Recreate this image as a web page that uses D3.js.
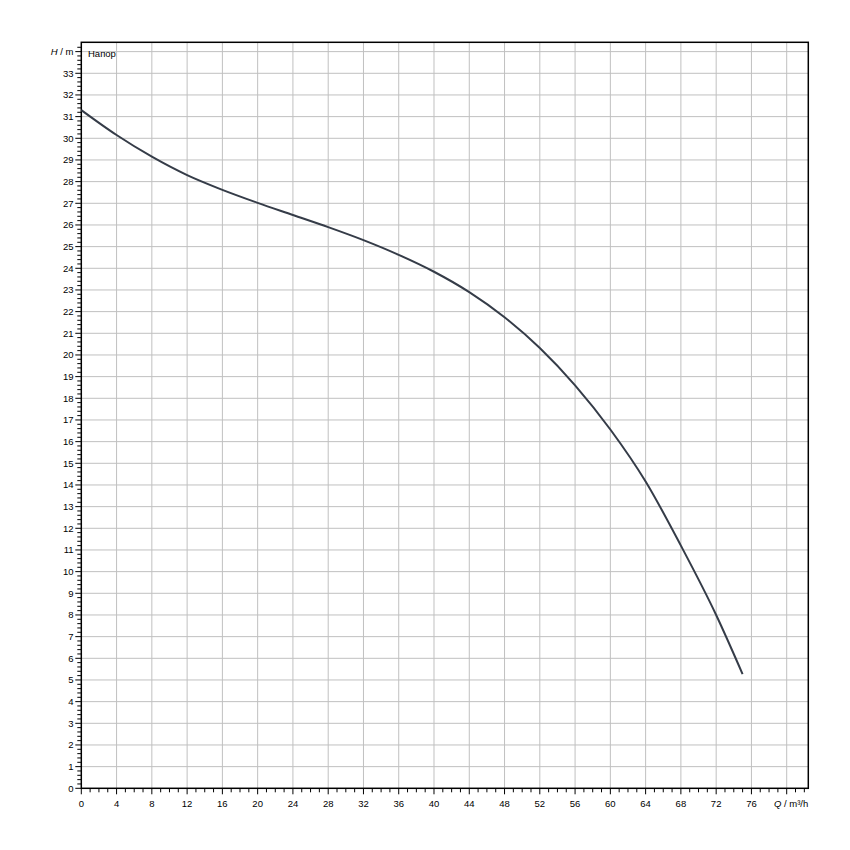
<!DOCTYPE html>
<meta charset="utf-8">
<style>
body {margin: 0; background: #fff;}
.lbl {font: 9.5px "Liberation Sans", Arial, sans-serif; fill: #000;}
</style>
<body>
<script src="https://d3js.org/d3.v7.min.js"></script>
<div id="chart"></div>
<script>
// pump curve values
var flow = [0, 4, 8, 12, 16, 20, 24, 28, 32, 36, 40, 44, 48, 52, 56, 60, 64, 68, 72, 75];
var head = [31.3, 30.15, 29.15, 28.3, 27.62, 27.02, 26.46, 25.9, 25.3, 24.62, 23.84, 22.9, 21.74, 20.32, 18.6, 16.56, 14.16, 11.2, 8.0, 5.27];
var xTickLabels = ["0","4","8","12","16","20","24","28","32","36","40","44","48","52","56","60","64","68","72","76"];
var yTickLabels = d3.range(0, 34).map(String);
var seriesName = "Напор";

var width = 850, height = 850;
var pLeft = 81.3, pRight = 808.3, pTop = 42.3, pBottom = 788.3;

var x = d3.scaleLinear().domain([0, 82.45]).range([pLeft, pRight]);
var y = d3.scaleLinear().domain([0, 34.43]).range([pBottom, pTop]);

var svg = d3.select("#chart").append("svg")
    .attr("width", width)
    .attr("height", height);

// grid
svg.append("g").selectAll("line")
    .data(d3.range(4, 81, 4))
    .enter().append("line")
    .attr("x1", function(d) { return x(d); })
    .attr("x2", function(d) { return x(d); })
    .attr("y1", pTop).attr("y2", pBottom)
    .attr("stroke", "#c0c0c0");
svg.append("g").selectAll("line")
    .data(d3.range(1, 35))
    .enter().append("line")
    .attr("y1", function(d) { return y(d); })
    .attr("y2", function(d) { return y(d); })
    .attr("x1", pLeft).attr("x2", pRight)
    .attr("stroke", "#c0c0c0");

// frame
svg.append("rect")
    .attr("x", pLeft).attr("y", pTop)
    .attr("width", pRight - pLeft).attr("height", pBottom - pTop)
    .attr("fill", "none").attr("stroke", "#000").attr("stroke-width", 1.5);

// ticks
svg.append("g").selectAll("line")
    .data(d3.range(0, 83, 1))
    .enter().append("line")
    .attr("x1", function(d) { return x(d); })
    .attr("x2", function(d) { return x(d); })
    .attr("y1", pBottom)
    .attr("y2", function(d) { return pBottom + (d % 4 === 0 ? 6 : 4); })
    .attr("stroke", "#000");
svg.append("g").selectAll("line")
    .data(d3.range(0, 172, 1).map(function(i) { return i / 5; }))
    .enter().append("line")
    .attr("y1", function(d) { return y(d); })
    .attr("y2", function(d) { return y(d); })
    .attr("x1", pLeft)
    .attr("x2", function(d, i) { return pLeft - (i % 5 === 0 ? 6 : 4); })
    .attr("stroke", "#000");

// tick labels
svg.append("g").selectAll("text")
    .data(xTickLabels)
    .enter().append("text")
    .attr("class", "lbl")
    .attr("x", function(d) { return x(+d); })
    .attr("y", 807)
    .attr("text-anchor", "middle")
    .text(function(d) { return d; });
svg.append("g").selectAll("text")
    .data(yTickLabels)
    .enter().append("text")
    .attr("class", "lbl")
    .attr("x", 73.5)
    .attr("y", function(d) { return y(+d) + 3.5; })
    .attr("text-anchor", "end")
    .text(function(d) { return d; });

// axis titles
var yt = svg.append("text").attr("class", "lbl")
    .attr("x", 73.5).attr("y", y(34) + 3.5).attr("text-anchor", "end");
yt.append("tspan").attr("font-style", "italic").text("H");
yt.append("tspan").text(" / m");
var xt = svg.append("text").attr("class", "lbl")
    .attr("x", pRight).attr("y", 807).attr("text-anchor", "end");
xt.append("tspan").attr("font-style", "italic").text("Q");
xt.append("tspan").text(" / m³/h");

svg.append("text").attr("class", "lbl")
    .attr("x", 88).attr("y", 56.5)
    .text(seriesName);

// curve
var line = d3.line()
    .x(function(d, i) { return x(flow[i]); })
    .y(function(d) { return y(d); })
    .curve(d3.curveMonotoneX);
svg.append("path")
    .datum(head)
    .attr("d", line)
    .attr("fill", "none")
    .attr("stroke", "#353c48")
    .attr("stroke-width", 2);
</script>
</body>
